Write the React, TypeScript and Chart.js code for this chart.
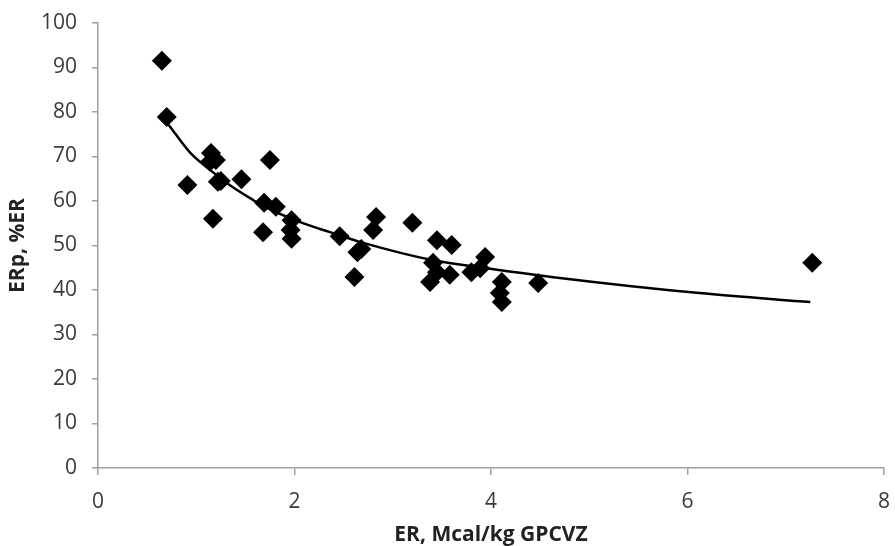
import React, { useEffect, useRef } from "react";
import { Chart, registerables } from "chart.js";

Chart.register(...registerables);

// Observed points: ER (Mcal/kg GPCVZ) vs ERp (%ER)
const erValues = [
  0.65, 0.7, 0.91, 1.15, 1.2, 1.14, 1.22, 1.25, 1.17, 1.46, 1.75, 1.69, 1.81, 1.68,
  1.97, 1.96, 1.97, 2.46, 2.61, 2.64, 2.68, 2.8, 2.83, 3.2, 3.45, 3.6, 3.41, 3.38,
  3.45, 3.58, 3.8, 3.94, 3.89, 4.11, 4.09, 4.11, 4.48, 7.27,
];
const erpValues = [
  91.5, 78.9, 63.6, 70.8, 69.2, 68.8, 64.3, 64.5, 56.0, 64.9, 69.2, 59.6, 58.7, 53.0,
  55.7, 53.5, 51.5, 52.1, 42.9, 48.5, 49.2, 53.5, 56.4, 55.1, 51.2, 50.1, 46.1, 41.8,
  44.0, 43.4, 44.0, 47.4, 44.9, 41.8, 39.3, 37.3, 41.6, 46.1,
];

// Fitted curve
const curveX = [0.72, 0.94, 1.14, 1.34, 1.58, 1.68, 2.05, 2.36, 2.7, 3.41, 3.96, 4.7, 6.12, 7.25];
const curveY = [77.1, 70.8, 67.0, 63.6, 60.2, 58.9, 55.3, 53.0, 50.6, 46.7, 44.9, 42.7, 39.3, 37.3];

const xTicks = [0, 2, 4, 6, 8];
const yTicks = [0, 10, 20, 30, 40, 50, 60, 70, 80, 90, 100];

const xTitle = "ER, Mcal/kg GPCVZ";
const yTitle = "ERp, %ER";

export default function App() {
  const ref = useRef<HTMLCanvasElement | null>(null);

  useEffect(() => {
    if (!ref.current) return;
    const axisColor = "#a0a0a0";
    const tickColor = "#3a3a3a";
    const titleColor = "#222222";
    const chart = new Chart(ref.current, {
      type: "scatter",
      data: {
        datasets: [
          {
            type: "line",
            label: "fit",
            data: curveX.map((x, i) => ({ x, y: curveY[i] })),
            borderColor: "#000",
            borderWidth: 2.5,
            pointRadius: 0,
            cubicInterpolationMode: "monotone",
            fill: false,
          } as any,
          {
            label: "data",
            data: erValues.map((x, i) => ({ x, y: erpValues[i] })),
            pointStyle: "rectRot",
            pointRadius: 10,
            backgroundColor: "#000",
            borderColor: "#000",
            borderWidth: 0,
          },
        ],
      },
      options: {
        animation: false,
        responsive: false,
        maintainAspectRatio: false,
        layout: { padding: { top: 23, right: 11, left: 0, bottom: 0 } },
        plugins: { legend: { display: false }, tooltip: { enabled: false } },
        scales: {
          x: {
            type: "linear",
            min: 0,
            max: 8,
            afterBuildTicks: (s: any) => {
              s.ticks = xTicks.map((v) => ({ value: v }));
            },
            afterFit: (s: any) => {
              s.height = 78;
              s.paddingLeft = 0;
              s.paddingRight = 0;
            },
            grid: { drawOnChartArea: false, drawTicks: true, tickLength: 7, color: axisColor, lineWidth: 1.5 },
            border: { color: axisColor, width: 1.5 },
            ticks: { color: tickColor, font: { family: "Open Sans", size: 21 }, padding: 14, maxRotation: 0 },
            title: {
              display: true,
              text: xTitle,
              color: titleColor,
              font: { family: "Open Sans", size: 21, weight: "bold", lineHeight: 1 },
              padding: { top: 0, bottom: 0 },
            },
          },
          y: {
            type: "linear",
            min: 0,
            max: 100,
            afterBuildTicks: (s: any) => {
              s.ticks = yTicks.map((v) => ({ value: v }));
            },
            afterFit: (s: any) => {
              s.width = 98;
              s.paddingTop = 0;
              s.paddingBottom = 0;
            },
            grid: { drawOnChartArea: false, drawTicks: true, tickLength: 6, color: axisColor, lineWidth: 1.5 },
            border: { color: axisColor, width: 1.5 },
            ticks: { color: tickColor, font: { family: "Open Sans", size: 21 }, padding: 15 },
            title: {
              display: true,
              text: yTitle,
              color: titleColor,
              font: { family: "Open Sans", size: 21, weight: "bold", lineHeight: 1 },
              padding: { top: 8, bottom: 0 },
            },
          },
        },
      },
    } as any);
    return () => chart.destroy();
  }, []);

  return (
    <div style={{ position: "fixed", left: 0, top: 0, width: 895, height: 546, background: "#fff" }}>
      <canvas ref={ref} width={895} height={546} style={{ width: 895, height: 546 }} />
    </div>
  );
}
